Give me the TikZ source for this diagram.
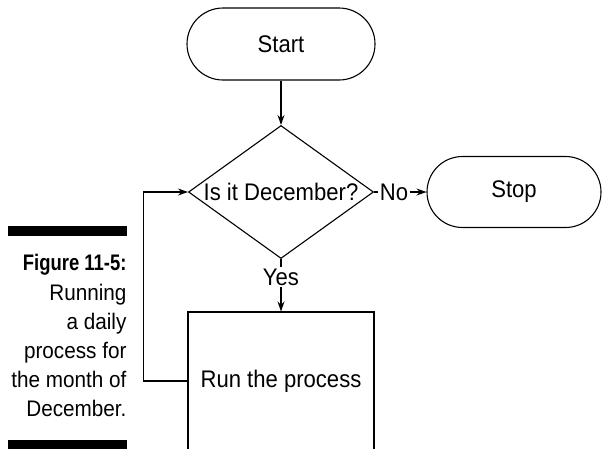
\documentclass[tikz,border=0pt]{standalone}
\usepackage{fontspec}
\setmainfont{Liberation Sans}[FakeStretch=0.92]
\newfontfamily\capfont[FakeStretch=0.92]{Liberation Sans}
\newfontfamily\capboldfont[FakeStretch=0.82]{Liberation Sans}
\usetikzlibrary{shapes.geometric,arrows.meta}
\begin{document}
\begin{tikzpicture}[x=1pt,y=-1pt,
  line width=1.1pt,
  every node/.style={font=\fontsize{24}{28}\selectfont},
  term/.style={draw, rectangle, inner sep=0pt},
  decision/.style={draw, diamond, inner sep=0pt, aspect=1.39, minimum width=185pt, minimum height=133pt},
  procbox/.style={draw, rectangle, inner sep=0pt, minimum width=186pt, minimum height=138pt},
  lbl/.style={inner sep=1pt},
  arr/.style={-{Stealth[length=10pt,width=7pt]}},
  capline/.style={anchor=base east, inner sep=0pt, font={\capfont\fontsize{22.5}{26}\selectfont}},
  capbold/.style={anchor=base east, inner sep=0pt, font={\capboldfont\bfseries\fontsize{22.5}{26}\selectfont}},
  bar/.style={fill=black, draw=none}]
\path[use as bounding box] (0,0) rectangle (607,448);
\clip (0,0) rectangle (607,448);

% flowchart
\node[term, rounded corners=36pt, minimum width=188pt, minimum height=72pt] (start) at (281,44) {Start};
\node[decision] (dec) at (281,192) {Is it December?};
\node[term, rounded corners=35.5pt, minimum width=174pt, minimum height=71pt] (stop) at (514,192) {Stop};
\node[procbox] (proc) at (281,381) {Run the process};
\node[lbl] (no) at (394,192) {No};
\node[lbl] (yes) at (281,277) {Yes};

\draw[arr] (start.south) -- (dec.north);
\draw (dec.east) -- (no.west);
\draw[arr] (no.east) -- (stop.west);
\draw (dec.south) -- (yes.north);
\draw[arr] (yes.south) -- (proc.north);
\draw[arr] (proc.west) -- ++(-44,0) |- (dec.west);

% caption
\fill[bar] (8,226) rectangle (127,236);
\fill[bar] (8,440) rectangle (127,452);
\node[capbold] (c0) at (127,270) {Figure 11-5:};
\node[capline] (c1) at (127,300) {Running};
\node[capline] (c2) at (127,329) {a daily};
\node[capline] (c3) at (127,358) {process for};
\node[capline] (c4) at (127,387) {the month of};
\node[capline] (c5) at (127,416) {December.};
\end{tikzpicture}
\end{document}
